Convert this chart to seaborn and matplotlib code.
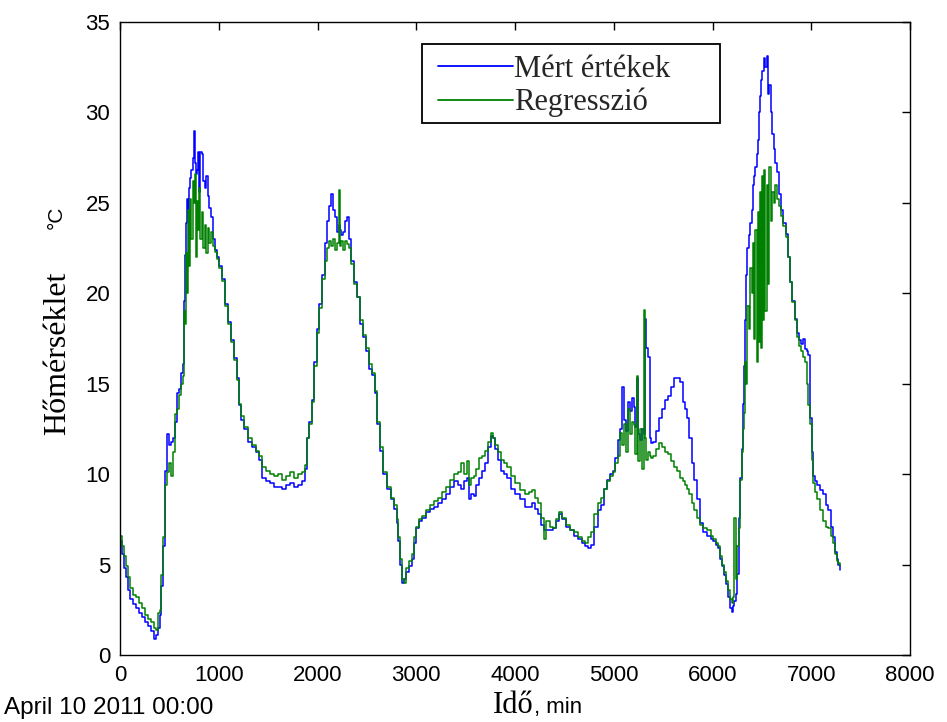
import matplotlib
matplotlib.use("Agg")
import matplotlib.pyplot as plt
from matplotlib.lines import Line2D
from matplotlib.patches import Rectangle
import seaborn as sns
import pandas as pd

# time (minutes since April 10 2011 00:00)
ido = [0, 20, 40, 60, 80, 100, 130, 160, 190, 220, 250, 280, 310, 340, 360, 380, 400, 420, 440, 460,
       480, 500, 520, 540, 560, 580, 600, 620, 640, 650, 660, 670, 680, 690, 700, 710, 720, 735, 750, 760,
       770, 780, 790, 800, 815, 830, 845, 860, 875, 890, 905, 920, 940, 960, 980, 1000, 1030, 1060, 1090, 1120,
       1150, 1180, 1200, 1230, 1260, 1300, 1340, 1380, 1410, 1440, 1480, 1520, 1560, 1600, 1640, 1680, 1720, 1760, 1800, 1840,
       1870, 1890, 1910, 1940, 1960, 1990, 2020, 2050, 2080, 2100, 2120, 2140, 2160, 2180, 2200, 2215, 2225, 2240, 2260, 2280,
       2300, 2320, 2340, 2370, 2400, 2430, 2460, 2490, 2520, 2550, 2580, 2600, 2630, 2660, 2700, 2740, 2770, 2800, 2820, 2840,
       2860, 2880, 2900, 2930, 2960, 2980, 3000, 3030, 3060, 3100, 3140, 3180, 3220, 3260, 3300, 3340, 3380, 3420, 3450, 3480,
       3510, 3530, 3550, 3580, 3610, 3640, 3670, 3700, 3730, 3760, 3780, 3800, 3830, 3860, 3890, 3920, 3960, 4000, 4050, 4100,
       4140, 4170, 4200, 4230, 4260, 4290, 4310, 4350, 4380, 4420, 4450, 4480, 4520, 4560, 4600, 4640, 4680, 4710, 4740, 4770,
       4800, 4840, 4870, 4900, 4930, 4960, 4990, 5010, 5040, 5060, 5080, 5100, 5120, 5140, 5160, 5180, 5200, 5220, 5235, 5250,
       5270, 5290, 5305, 5315, 5330, 5350, 5365, 5380, 5400, 5430, 5460, 5490, 5520, 5550, 5580, 5610, 5640, 5670, 5700, 5720,
       5740, 5760, 5790, 5810, 5840, 5870, 5900, 5940, 5980, 6010, 6040, 6060, 6080, 6100, 6120, 6140, 6160, 6180, 6195, 6210,
       6222, 6235, 6250, 6265, 6280, 6296, 6312, 6322, 6330, 6340, 6350, 6365, 6380, 6395, 6413, 6425, 6435, 6448, 6458, 6470,
       6481, 6492, 6503, 6514, 6525, 6536, 6549, 6560, 6575, 6590, 6605, 6620, 6635, 6650, 6670, 6690, 6715, 6740, 6760, 6785,
       6810, 6835, 6860, 6880, 6900, 6920, 6937, 6955, 6970, 6987, 7005, 7021, 7040, 7060, 7090, 7120, 7150, 7170, 7200, 7220,
       7240, 7260, 7274, 7290]

# measured temperature (blue)
mert = [6.3, 5.6, 4.8, 4.3, 3.6, 3.1, 2.8, 2.6, 2.3, 2.1, 1.8, 1.6, 1.3, 0.9, 1.1, 1.5, 2.2, 3.8, 6.0, 10.2,
        12.2, 11.6, 11.8, 12.0, 12.9, 14.5, 14.7, 15.6, 16.1, 19.6, 22.1, 23.9, 25.2, 24.0, 25.8, 26.4, 26.8, 27.5, 29.0, 27.2,
        26.6, 26.8, 27.8, 25.6, 27.8, 27.7, 26.2, 25.8, 26.5, 25.4, 24.7, 24.2, 23.0, 22.4, 22.0, 21.5, 20.8, 19.4, 18.4, 17.4,
        16.4, 15.3, 13.8, 13.0, 12.5, 11.8, 11.5, 11.2, 10.8, 9.8, 9.6, 9.5, 9.3, 9.3, 9.2, 9.4, 9.5, 9.3, 9.4, 9.6,
        10.3, 12.0, 12.9, 14.1, 16.2, 18.0, 19.4, 21.0, 22.8, 24.0, 24.8, 25.5, 24.6, 24.2, 23.4, 23.8, 23.5, 23.2, 23.4, 24.0,
        24.2, 23.0, 21.8, 20.6, 19.8, 18.3, 17.6, 16.8, 15.8, 15.5, 14.5, 12.8, 11.3, 10.0, 9.2, 8.6, 8.1, 7.3, 6.3, 5.0,
        4.0, 4.2, 4.6, 4.9, 5.3, 6.2, 7.0, 7.4, 7.6, 7.9, 8.1, 8.2, 8.4, 8.6, 8.9, 9.3, 9.6, 9.4, 9.2, 9.6,
        9.8, 8.6, 8.9, 8.8, 9.4, 9.8, 10.2, 10.6, 11.5, 12.1, 12.0, 11.4, 10.8, 10.2, 10.0, 9.8, 9.2, 8.9, 8.6, 8.2,
        8.2, 8.4, 8.1, 7.8, 7.2, 6.9, 6.9, 6.9, 7.0, 7.4, 7.8, 7.5, 7.1, 6.9, 6.6, 6.4, 6.2, 6.0, 5.9, 6.1,
        7.1, 8.0, 8.3, 9.2, 9.7, 10.0, 10.2, 10.9, 11.9, 12.5, 14.8, 13.0, 12.4, 14.0, 13.5, 14.2, 13.7, 12.6, 15.3, 12.2,
        11.9, 12.5, 12.2, 18.6, 17.0, 16.5, 12.0, 11.7, 11.8, 12.4, 13.1, 13.6, 14.1, 14.3, 14.8, 15.3, 15.3, 15.1, 14.0, 13.6,
        13.1, 12.0, 10.6, 9.7, 8.6, 7.3, 6.8, 6.6, 6.4, 6.3, 6.1, 5.9, 5.3, 4.9, 4.4, 3.9, 3.2, 2.6, 2.4, 2.7,
        3.0, 3.4, 4.5, 7.6, 9.8, 11.4, 13.9, 16.0, 18.5, 21.0, 22.5, 23.2, 23.9, 24.6, 26.0, 26.5, 27.0, 27.7, 28.5, 30.0,
        30.9, 31.8, 32.3, 32.3, 33.0, 32.5, 33.1, 31.0, 31.5, 30.0, 28.8, 28.0, 27.2, 26.7, 25.5, 24.6, 23.9, 23.3, 22.0, 20.6,
        19.6, 18.6, 17.8, 17.4, 17.2, 17.5, 16.9, 16.8, 16.6, 13.1, 11.2, 9.9, 9.6, 9.4, 9.1, 8.9, 8.3, 8.0, 7.1, 6.5,
        5.7, 5.3, 5.0, 4.7]

# regression estimate (green)
regr = [6.6, 6.0, 5.5, 4.9, 4.3, 3.7, 3.3, 3.2, 2.9, 2.6, 2.2, 2.0, 1.8, 1.5, 1.4, 2.3, 2.5, 4.4, 6.5, 9.4,
        10.1, 10.6, 9.9, 11.2, 13.3, 13.6, 14.4, 15.0, 15.4, 19.0, 18.3, 22.2, 20.0, 24.6, 21.5, 25.2, 23.0, 26.2, 25.0, 26.6,
        22.0, 25.1, 23.5, 25.8, 23.0, 24.5, 22.5, 23.8, 22.2, 23.6, 22.8, 23.4, 22.6, 22.3, 21.9, 21.4, 20.7, 19.3, 18.3, 17.3,
        16.3, 15.2, 13.9, 13.2, 12.6, 12.0, 11.6, 11.3, 11.0, 10.4, 10.2, 10.0, 9.9, 10.0, 9.7, 9.9, 10.1, 9.8, 10.0, 10.1,
        10.5, 12.0, 12.8, 14.0, 16.0, 17.8, 19.2, 20.8, 21.8, 22.5, 22.9, 22.6, 23.0, 22.4, 22.8, 25.7, 22.6, 22.9, 22.4, 22.9,
        22.7, 22.5, 21.6, 20.5, 19.8, 18.5, 17.7, 17.0, 16.1, 15.6, 14.6, 12.9, 11.5, 10.1, 9.3, 8.7, 8.3, 7.5, 6.5, 5.3,
        4.2, 4.0, 4.8, 5.2, 5.6, 6.5, 7.1, 7.5, 7.7, 8.0, 8.3, 8.5, 8.7, 9.0, 9.3, 9.7, 10.0, 10.1, 10.6, 10.0,
        10.7, 9.4, 9.8, 9.9, 10.3, 10.9, 11.0, 11.3, 11.8, 12.3, 12.0, 11.6, 11.2, 10.8, 10.6, 10.4, 9.9, 9.5, 9.1, 8.9,
        9.0, 9.1, 8.7, 8.4, 7.6, 6.4, 7.4, 7.1, 7.0, 7.5, 7.9, 7.6, 7.2, 6.9, 6.8, 6.5, 6.3, 6.2, 6.5, 6.8,
        7.8, 8.4, 8.7, 9.2, 9.6, 9.9, 10.1, 10.6, 11.0, 12.3, 11.6, 12.8, 11.2, 13.6, 12.2, 12.9, 12.7, 11.1, 15.4, 10.7,
        12.5, 10.3, 19.1, 12.0, 10.8, 11.2, 11.0, 10.9, 11.0, 11.4, 11.7, 11.5, 11.2, 11.1, 10.7, 10.4, 10.2, 9.8, 9.6, 9.4,
        9.2, 8.9, 8.4, 8.0, 7.6, 7.2, 7.0, 6.9, 6.6, 6.4, 6.2, 6.0, 5.5, 5.0, 4.6, 4.1, 3.6, 3.1, 2.9, 3.2,
        7.6, 4.2, 6.0, 7.0, 9.7, 11.2, 12.5, 13.4, 16.2, 15.0, 19.3, 18.0, 21.4, 20.0, 22.8, 17.5, 23.5, 16.2, 24.5, 17.3,
        25.6, 17.0, 26.5, 18.5, 26.8, 19.0, 26.0, 20.5, 27.0, 24.0, 25.6, 25.0, 26.0, 25.2, 24.8, 24.3, 23.7, 23.1, 22.0, 20.6,
        19.5, 18.5, 17.6, 17.1, 16.8, 16.5, 16.2, 15.0, 13.8, 12.8, 10.8, 9.5, 9.0, 8.6, 8.0, 7.4, 7.1, 7.0, 6.6, 6.2,
        5.6, 5.2, 5.1, 4.9]

x_ticks = [0, 1000, 2000, 3000, 4000, 5000, 6000, 7000, 8000]
y_ticks = [0, 5, 10, 15, 20, 25, 30, 35]
series_names = ["Mért értékek", "Regresszió"]
series_colors = ["#0000ff", "#008000"]

df = pd.concat([
    pd.DataFrame({"t": ido, "T": mert, "s": series_names[0]}),
    pd.DataFrame({"t": ido, "T": regr, "s": series_names[1]}),
])

sns.set_style("white")
SANS = ["Liberation Sans", "DejaVu Sans"]
SERIF = ["Liberation Serif", "DejaVu Serif"]
plt.rcParams["font.family"] = SANS

W, H = 947, 722
fig = plt.figure(figsize=(W / 100, H / 100), dpi=100)
ax = fig.add_axes([120 / W, 67 / H, 790 / W, 633 / H])

sns.lineplot(data=df, x="t", y="T", hue="s", palette=series_colors, estimator=None,
             sort=False, drawstyle="steps-post", linewidth=1.1, ax=ax, legend=False)

ax.set_xlim(0, 8000)
ax.set_ylim(0, 35)
ax.set_xticks(x_ticks)
ax.set_yticks(y_ticks)
ax.set_xticklabels([str(v) for v in x_ticks])
ax.set_yticklabels([str(v) for v in y_ticks])
ax.tick_params(direction="in", length=6, width=1, top=True, right=True,
               labelsize=16, pad=7, colors="black")
for sp in ax.spines.values():
    sp.set_visible(True)
    sp.set_color("black")
    sp.set_linewidth(1.0)
ax.set_xlabel("")
ax.set_ylabel("")

# legend (MATLAB-style box drawn separately)
handles = [Line2D([], [], color=c, lw=1.3) for c in series_colors]
leg = ax.legend(handles, series_names, loc="upper left",
                bbox_to_anchor=(438 / W, 1 - 55 / H), bbox_transform=fig.transFigure,
                prop={"family": SERIF, "size": 22}, frameon=False,
                handlelength=2.45, handletextpad=0.05,
                borderpad=0.0, labelspacing=0.13, borderaxespad=0.0)
fig.patches.append(Rectangle((422 / W, 1 - 123 / H), 298 / W, 79 / H, transform=fig.transFigure,
                             fill=False, edgecolor="black", linewidth=1.3, zorder=5))

# axis labels (mixed fonts like the original)
fig.text(58 / W, 1 - 353 / H, "Hőmérséklet", rotation=90, ha="center", va="center",
         family=SERIF, fontsize=23, color="black")
fig.text(56 / W, 1 - 217 / H, "°C", rotation=90, ha="center", va="center",
         family=SANS, fontsize=15, color="black")
fig.text(534 / W, 1 - 713 / H, "Idő", ha="right", va="baseline",
         family=SERIF, fontsize=22, color="black")
fig.text(534 / W, 1 - 713 / H, ", min", ha="left", va="baseline",
         family=SANS, fontsize=16, color="black")
fig.text(4 / W, 1 - 708 / H, "April 10 2011 00:00", ha="left", va="center",
         family=SANS, fontsize=17.5, color="black")

fig.savefig("out.png", dpi=100)
